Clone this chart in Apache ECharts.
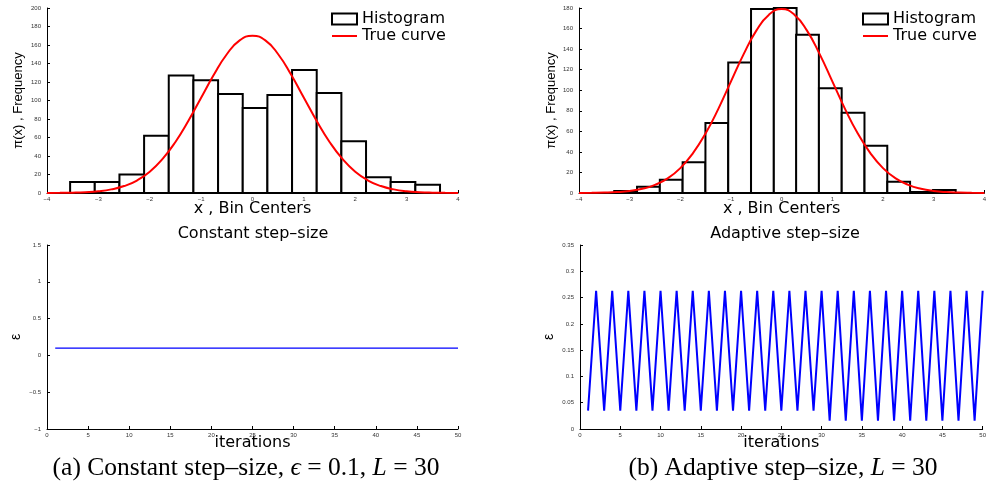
<!DOCTYPE html>
<html><head><meta charset="utf-8">
<script src="https://cdn.jsdelivr.net/npm/echarts/dist/echarts.min.js"></script>
<style>html,body{margin:0;padding:0;background:#fff}#c{width:989px;height:495px}</style>
</head><body><div id="c"></div><script>
// ---- data ----
const histCentersA = [-3.31,-2.83,-2.35,-1.87,-1.39,-0.91,-0.43,0.05,0.53,1.01,1.49,1.97,2.45,2.93,3.41];
const histCountsA  = [12,12,20,62,127,122,107,92,106,133,108,56,17,12,9];
const binWidthA = 0.48;
const histCentersB = [-3.08,-2.63,-2.18,-1.73,-1.28,-0.83,-0.38,0.07,0.51,0.96,1.41,1.86,2.31,2.76,3.21];
const histCountsB  = [2,6,13,30,68,127,179,180,154,102,78,46,11,1,3];
const binWidthB = 0.449;
const curveX = [-4,-3.75,-3.5,-3.25,-3,-2.75,-2.5,-2.25,-2,-1.75,-1.5,-1.25,-1,-0.75,-0.5,-0.25,0,0.25,0.5,0.75,1,1.25,1.5,1.75,2,2.25,2.5,2.75,3,3.25,3.5,3.75,4];
const curveA = [0.1,0.2,0.4,0.9,1.9,3.9,7.5,13.5,23,36.8,55.2,77.8,103,128,150,165,170,165,150,128,103,77.8,55.2,36.8,23,13.5,7.5,3.9,1.9,0.9,0.4,0.2,0.1];
const curveB = [0.1,0.2,0.4,0.9,2.0,4.1,7.9,14.2,24.2,38.8,58.1,81.9,108.6,135.1,158,173.5,179,173.5,158,135.1,108.6,81.9,58.1,38.8,24.2,14.2,7.9,4.1,2.0,0.9,0.4,0.2,0.1];
const iterations = [1,2,3,4,5,6,7,8,9,10,11,12,13,14,15,16,17,18,19,20,21,22,23,24,25,26,27,28,29,30,31,32,33,34,35,36,37,38,39,40,41,42,43,44,45,46,47,48,49,50];
const constEps = [0.1,0.1,0.1,0.1,0.1,0.1,0.1,0.1,0.1,0.1,0.1,0.1,0.1,0.1,0.1,0.1,0.1,0.1,0.1,0.1,0.1,0.1,0.1,0.1,0.1,0.1,0.1,0.1,0.1,0.1,0.1,0.1,0.1,0.1,0.1,0.1,0.1,0.1,0.1,0.1,0.1,0.1,0.1,0.1,0.1,0.1,0.1,0.1,0.1,0.1];
const adaptEps = [0.035,0.263,0.035,0.263,0.035,0.263,0.035,0.263,0.035,0.263,0.035,0.263,0.035,0.263,0.035,0.263,0.035,0.263,0.035,0.263,0.035,0.263,0.035,0.263,0.035,0.263,0.035,0.263,0.035,0.263,0.016,0.263,0.016,0.263,0.016,0.263,0.016,0.263,0.016,0.263,0.016,0.263,0.016,0.263,0.016,0.263,0.016,0.263,0.016,0.263];
const titles = ['Constant step\u2013size','Adaptive step\u2013size'];

// ---- chart ----
const sans = 'DejaVu Sans';
const tickFmt = v => String(v).replace('-', '\u2212');
function xAx(grid, min, max, interval, name, gap) {
  return {type:'value', gridIndex:grid, min:min, max:max, interval:interval,
    name:name, nameLocation:'middle', nameGap:gap, nameMoveOverlap:false,
    nameTextStyle:{fontFamily:sans, fontSize:16, color:'#000'},
    axisLine:{onZero:false, lineStyle:{color:'#000', width:1}},
    axisTick:{inside:true, length:3, lineStyle:{color:'#000'}},
    axisLabel:{fontSize:6, fontFamily:'Liberation Sans', color:'#333', margin:3, formatter:tickFmt},
    splitLine:{show:false}};
}
function yAx(grid, min, max, interval, name, gap, fs) {
  return {type:'value', gridIndex:grid, min:min, max:max, interval:interval,
    name:name, nameLocation:'middle', nameGap:gap, nameMoveOverlap:false,
    nameTextStyle:{fontFamily:'Liberation Sans', fontSize:fs, color:'#000'},
    axisLine:{onZero:false, lineStyle:{color:'#000', width:1}},
    axisTick:{inside:true, length:3, lineStyle:{color:'#000'}},
    axisLabel:{fontSize:6, fontFamily:'Liberation Sans', color:'#333', margin:6, formatter:tickFmt},
    splitLine:{show:false}};
}
function histSeries(idx, centers, counts, w) {
  return {type:'custom', name:'Histogram', xAxisIndex:idx, yAxisIndex:idx, z:2,
    data: centers.map((c,i)=>[c, counts[i], w]),
    itemStyle:{color:'#fff', borderColor:'#000', borderWidth:2},
    renderItem: function(params, api){
      const c = api.value(0), h = api.value(1), bw = api.value(2);
      const p0 = api.coord([c - bw/2, h]);
      const p1 = api.coord([c + bw/2, 0]);
      return {type:'rect', shape:{x:p0[0], y:p0[1], width:p1[0]-p0[0], height:p1[1]-p0[1]},
        style:{fill:'#fff', stroke:'#000', lineWidth:2}};
    }};
}
function curveSeries(idx, ys) {
  return {type:'line', name:'True curve', xAxisIndex:idx, yAxisIndex:idx, z:5,
    data: curveX.map((x,i)=>[x, ys[i]]), smooth:true, symbol:'none',
    lineStyle:{color:'#ff0000', width:2}, itemStyle:{color:'#ff0000'}};
}
function legend(left) {
  return {left:left, top:11, orient:'vertical', padding:0, itemGap:1, itemWidth:25, itemHeight:11,
    selectedMode:false,
    textStyle:{fontFamily:sans, fontSize:16, color:'#000', lineHeight:14},
    data:[{name:'Histogram', icon:'rect', itemStyle:{color:'#fff', borderColor:'#000', borderWidth:2}},
          {name:'True curve', icon:'path://M0,0H50V4H0Z', itemStyle:{color:'#ff0000'}}]};
}
const capN = {fontFamily:'Liberation Serif', fontSize:25.5, fontWeight:'normal', color:'#000'};
const capI = {fontFamily:'Liberation Serif', fontStyle:'italic', fontSize:25.5, fontWeight:'normal', color:'#000'};
const option = {
  backgroundColor:'#fff',
  animation:false,
  title:[
    {text:titles[0], left:253, top:226, textAlign:'center', padding:0, textStyle:{fontFamily:sans, fontSize:16, fontWeight:'normal', color:'#000'}},
    {text:titles[1], left:785, top:226, textAlign:'center', padding:0, textStyle:{fontFamily:sans, fontSize:16, fontWeight:'normal', color:'#000'}},
    {text:'{n|(a) Constant step\u2013size, }{i|\u03f5}{n| = 0.1, }{i|L}{n| = 30}', left:246, top:455, textAlign:'center', padding:0,
      textStyle:{fontWeight:'normal', rich:{n:capN, i:capI}}},
    {text:'{n|(b) Adaptive step\u2013size, }{i|L}{n| = 30}', left:783, top:455, textAlign:'center', padding:0,
      textStyle:{fontWeight:'normal', rich:{n:capN, i:capI}}}
  ],
  legend:[legend(331), legend(862)],
  grid:[
    {left:47, top:8, width:411, height:185},
    {left:579, top:8, width:410, height:185},
    {left:47, top:245, width:411, height:184},
    {left:580, top:245, width:410, height:184}
  ],
  xAxis:[
    xAx(0,-4,4,1,'x , Bin Centers',8),
    xAx(1,-4,4,1,'x , Bin Centers',8),
    xAx(2,0,50,5,'iterations',6),
    xAx(3,0,50,5,'iterations',6)
  ],
  yAxis:[
    yAx(0,0,200,20,'\u03c0(x) , Frequency',22,13),
    yAx(1,0,180,20,'\u03c0(x) , Frequency',21,13),
    yAx(2,-1,1.5,0.5,'\u03b5',24,14),
    yAx(3,0,0.35,0.05,'\u03b5',24,14)
  ],
  series:[
    histSeries(0, histCentersA, histCountsA, binWidthA),
    curveSeries(0, curveA),
    histSeries(1, histCentersB, histCountsB, binWidthB),
    curveSeries(1, curveB),
    {type:'line', name:'const', xAxisIndex:2, yAxisIndex:2, symbol:'none',
      data: iterations.map((t,i)=>[t, constEps[i]]), lineStyle:{color:'#0000ff', width:1.2}},
    {type:'line', name:'adapt', xAxisIndex:3, yAxisIndex:3, symbol:'none',
      data: iterations.map((t,i)=>[t, adaptEps[i]]), lineStyle:{color:'#0000ff', width:2}}
  ]
};
const chart = echarts.init(document.getElementById('c'), null, {renderer:'canvas'});
chart.setOption(option);
</script></body></html>
